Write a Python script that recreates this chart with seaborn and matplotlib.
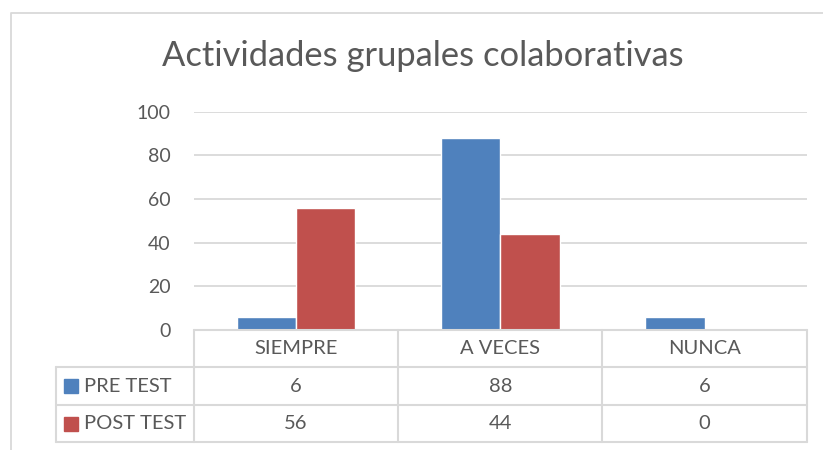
import matplotlib
matplotlib.use("Agg")
import matplotlib.pyplot as plt
import seaborn as sns
import pandas as pd
from matplotlib.patches import Rectangle
from matplotlib.lines import Line2D

# Chart data
categories = ["SIEMPRE", "A VECES", "NUNCA"]
series_names = ["PRE TEST", "POST TEST"]
pre_test = [6, 88, 6]
post_test = [56, 44, 0]
y_ticks = [0, 20, 40, 60, 80, 100]
title = "Actividades grupales colaborativas"

BLUE = "#4F81BD"
RED = "#C0504D"
GRID = "#D9D9D9"
TEXT = "#595959"

sns.set_theme(style="white")
plt.rcParams['font.family'] = ['Lato', 'DejaVu Sans']

W, H = 823, 450
fig = plt.figure(figsize=(W / 100, H / 100), dpi=100)


def fx(x):
    return x / W


def fy(y):
    return 1 - y / H


# plot area in pixel coordinates of the reference
left, right, top, bottom = 194, 806.7, 111.7, 330
ax = fig.add_axes([fx(left), fy(bottom), fx(right) - fx(left), fy(top) - fy(bottom)])

df = pd.DataFrame({
    "categoria": categories * 2,
    "serie": [series_names[0]] * len(categories) + [series_names[1]] * len(categories),
    "valor": pre_test + post_test,
})
sns.barplot(data=df, x="categoria", y="valor", hue="serie", order=categories,
            hue_order=series_names, palette=[BLUE, RED], width=0.58, gap=0,
            saturation=1, errorbar=None, legend=False, ax=ax)

ax.set_xlim(-0.5, len(categories) - 0.5)
ax.set_ylim(0, 100)
ax.set_yticks(y_ticks)
ax.yaxis.grid(True, color=GRID, lw=1.3)
ax.set_axisbelow(True)
ax.set_xticks([])
ax.set_xlabel("")
ax.set_ylabel("")
ax.tick_params(axis="y", length=0, pad=17, labelsize=14, labelcolor=TEXT)
for s in ax.spines.values():
    s.set_visible(False)

# title
fig.text(fx(423), fy(66), title, ha="center", va="baseline", fontsize=24.8,
         color=TEXT)

# outer chart frame
fig.add_artist(Line2D([fx(11), fx(11), fx(823)], [fy(450), fy(13), fy(13)],
                      transform=fig.transFigure, color=GRID, lw=1.3))

# data table
row_y = [330, 367, 405, 442]
col_x = [left + (right - left) * i / len(categories) for i in range(len(categories) + 1)]
legend_left = 56
cell_fs = 14.5


def hline(x0, x1, y):
    fig.add_artist(Line2D([fx(x0), fx(x1)], [fy(y), fy(y)],
                          transform=fig.transFigure, color=GRID, lw=1.5))


def vline(x, y0, y1):
    fig.add_artist(Line2D([fx(x), fx(x)], [fy(y0), fy(y1)],
                          transform=fig.transFigure, color=GRID, lw=1.5))


hline(left, right, row_y[0])
for y in row_y[1:]:
    hline(legend_left, right, y)
for x in col_x:
    vline(x, row_y[0], row_y[-1])
vline(legend_left, row_y[1], row_y[-1])

for i, cat in enumerate(categories):
    cx = (col_x[i] + col_x[i + 1]) / 2
    fig.text(fx(cx), fy((row_y[0] + row_y[1]) / 2), cat, ha="center", va="center",
             fontsize=cell_fs, color=TEXT)

for r, (name, vals, col) in enumerate(zip(series_names, [pre_test, post_test], [BLUE, RED])):
    cy = (row_y[r + 1] + row_y[r + 2]) / 2
    fig.add_artist(Rectangle((fx(64), fy(cy + 7)), fx(14), fy(0) - fy(14),
                             transform=fig.transFigure, color=col))
    fig.text(fx(84), fy(cy), name, ha="left", va="center", fontsize=cell_fs, color=TEXT)
    for i, v in enumerate(vals):
        cx = (col_x[i] + col_x[i + 1]) / 2
        fig.text(fx(cx), fy(cy), str(v), ha="center", va="center",
                 fontsize=cell_fs, color=TEXT)

fig.savefig("out.png", dpi=100)
